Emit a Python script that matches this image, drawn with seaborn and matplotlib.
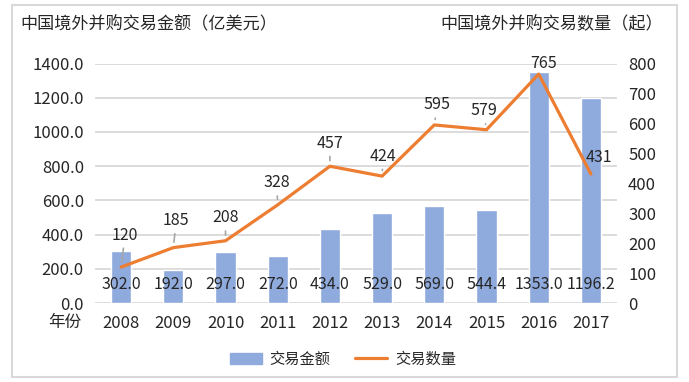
import numpy as np
import pandas as pd
import matplotlib.pyplot as plt
import seaborn as sns
from matplotlib.patches import Rectangle
from matplotlib.lines import Line2D
from matplotlib.patches import Patch

# datos del gráfico
years = ['2008', '2009', '2010', '2011', '2012', '2013', '2014', '2015', '2016', '2017']
amount = [302.0, 192.0, 297.0, 272.0, 434.0, 529.0, 569.0, 544.4, 1353.0, 1196.2]
count = [120, 185, 208, 328, 457, 424, 595, 579, 765, 431]

# desplazamiento de las etiquetas de la línea (píxeles)
label_dx = [4, 3, 0, -1, 0, 1, 3, -3, 5, 8]
label_dy = [32, 27, 23, 22, 23, 20, 20, 19, 11, 17]
leader = [True] * 8 + [False, False]

sns.set_style('white')
plt.rcParams['font.family'] = ['Noto Sans CJK SC', 'DejaVu Sans']
text_c = '#262626'
bar_c = '#8FAADC'
line_c = '#ED7D31'

df = pd.DataFrame({'year': years, 'amount': amount, 'count': count, 'pos': range(len(years))})

fig = plt.figure(figsize=(6.89, 3.82), dpi=100)
ax = fig.add_axes([95/689, 1 - 303/382, 522/689, 239.4/382])

sns.barplot(data=df, x='year', y='amount', color=bar_c, width=0.385, saturation=1, ax=ax, zorder=2)
ax.set_ylim(0, 1400)
ax.set_xlim(-0.5, 9.5)
ax.set_yticks(np.arange(0, 1401, 200))
ax.set_yticklabels([f'{v:.1f}' for v in np.arange(0, 1401, 200)])
ax.yaxis.grid(True, color='#D9D9D9', linewidth=1.3, zorder=0)
ax.set_axisbelow(True)
for s in ax.spines.values():
    s.set_visible(False)
ax.tick_params(axis='both', length=0, labelsize=12, colors=text_c)
ax.tick_params(axis='y', pad=8)
ax.tick_params(axis='x', pad=9)
ax.set_xlabel('')
ax.set_ylabel('')

# etiquetas de las barras
for i, v in enumerate(amount):
    ax.annotate(f'{v:.1f}', xy=(i, 0), xytext=(0, 13), textcoords='offset points',
                ha='center', va='center', fontsize=11.5, color=text_c, zorder=5)

ax2 = ax.twinx()
sns.lineplot(data=df, x='pos', y='count', color=line_c, linewidth=2.3, ax=ax2, zorder=3)
ax2.set_ylim(0, 800)
ax2.set_yticks(np.arange(0, 801, 100))
ax2.set_xlim(-0.5, 9.5)
for s in ax2.spines.values():
    s.set_visible(False)
ax2.tick_params(axis='y', length=0, labelsize=12, colors=text_c, pad=8)
ax2.set_ylabel('')
ax2.set_xlabel('')

for i, v in enumerate(count):
    arrow = dict(arrowstyle='-', color='#A6A6A6', lw=1.2, shrinkA=1, shrinkB=4) if leader[i] else None
    ax2.annotate(str(v), xy=(i, v), xytext=(label_dx[i] * 0.72, label_dy[i] * 0.72),
                 textcoords='offset points', ha='center', va='center', fontsize=11.5,
                 color=text_c, arrowprops=arrow, annotation_clip=False, zorder=6)

# títulos
fig.text(20/689, 1 - 23/382, '中国境外并购交易金额（亿美元）', ha='left', va='center', fontsize=12.3, color=text_c)
fig.text(663/689, 1 - 23/382, '中国境外并购交易数量（起）', ha='right', va='center', fontsize=12.3, color=text_c)
fig.text(65/689, 1 - 322/382, '年份', ha='center', va='center', fontsize=12, color=text_c)

handles = [Patch(color=bar_c), Line2D([0], [0], color=line_c, lw=2.3)]
fig.legend(handles, ['交易金额', '交易数量'], loc='center', bbox_to_anchor=(343/689, 1 - 359/382),
           ncol=2, frameon=False, fontsize=11, handlelength=2.1, handletextpad=0.5,
           columnspacing=1.6, labelcolor=text_c)

fig.patches.append(Rectangle((12/689, 1 - 377/382), 665/689, 372/382, transform=fig.transFigure,
                             fill=False, edgecolor='#D9D9D9', linewidth=1.5))

fig.savefig('out.png', dpi=100)
